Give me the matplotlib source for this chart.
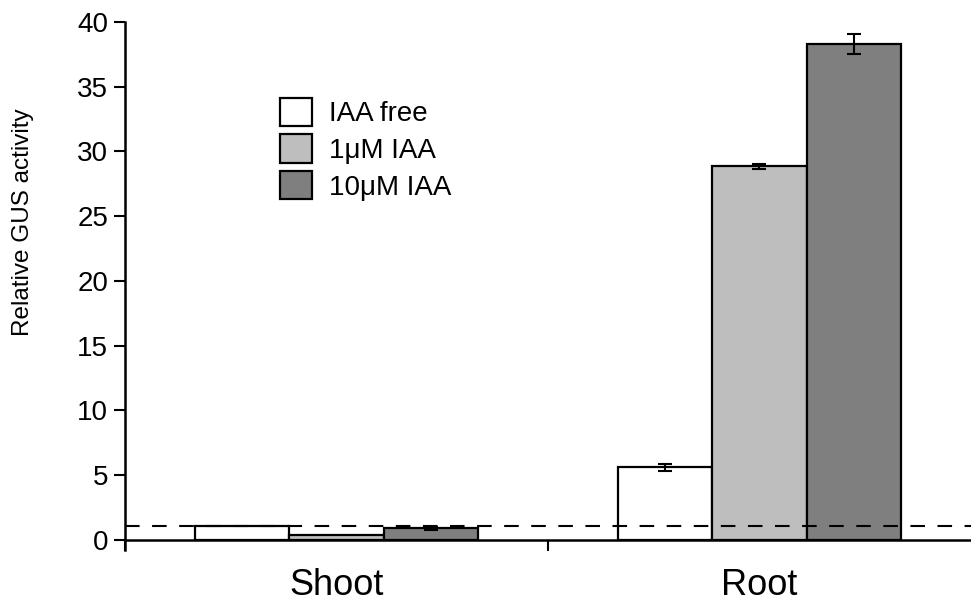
import matplotlib.pyplot as plt
import numpy as np

plt.rcParams['font.family'] = ['Liberation Sans', 'DejaVu Sans']

# Data
groups = ['Shoot', 'Root']
treatments = ['IAA free', '1μM IAA', '10μM IAA']
colors = ['#ffffff', '#bebebe', '#7f7f7f']
values = {
    'IAA free': [1.1, 5.6],
    '1μM IAA': [0.35, 28.85],
    '10μM IAA': [0.9, 38.3],
}
errors = {
    'IAA free': [0.0, 0.3],
    '1μM IAA': [0.0, 0.2],
    '10μM IAA': [0.1, 0.75],
}
baseline = 1.1

fig = plt.figure(figsize=(9.71, 6.01), dpi=100)
ax = fig.add_axes([0.1287, 0.1015, 0.8713, 0.862])

x = np.arange(len(groups))
width = 0.2235
for i, t in enumerate(treatments):
    pos = x + (i - 1) * width
    ax.bar(pos, values[t], width, color=colors[i], edgecolor='black',
           linewidth=1.6, label=t, zorder=2)
    errs = np.array(errors[t])
    mask = errs > 0
    ax.errorbar(pos[mask], np.array(values[t])[mask], yerr=errs[mask],
                fmt='none', ecolor='black', elinewidth=1.5, capsize=5,
                capthick=1.5, zorder=3)

ax.axhline(baseline, color='black', linestyle=(0, (7, 6)), linewidth=1.5, zorder=4)

ax.set_xlim(-0.5, 1.5)
ax.set_ylim(0, 40)
ax.set_yticks(np.arange(0, 41, 5))
ax.set_xticks(x)
ax.set_xticklabels(groups, fontsize=26)
ax.tick_params(axis='x', length=0, pad=20)
ax.set_xticks([-0.5, 0.5], minor=True)
ax.tick_params(axis='x', which='minor', length=8, width=1.5, direction='out')
ax.tick_params(axis='y', labelsize=20, length=8, width=1.5, direction='out', pad=4)
ax.set_ylabel('Relative GUS activity', fontsize=17.5)
ax.yaxis.set_label_coords(-0.107, 0.614)

ax.spines['top'].set_visible(False)
ax.spines['right'].set_visible(False)
ax.spines['left'].set_linewidth(1.8)
ax.spines['bottom'].set_linewidth(1.8)
ax.spines['left'].set_bounds(-0.8, 40)

leg = ax.legend(loc='upper left', bbox_to_anchor=(0.170, 0.875), frameon=False,
                fontsize=20, handlelength=1.15, handleheight=1.2,
                handletextpad=0.6, labelspacing=0.25, borderaxespad=0)

fig.savefig('out.png', dpi=100)
